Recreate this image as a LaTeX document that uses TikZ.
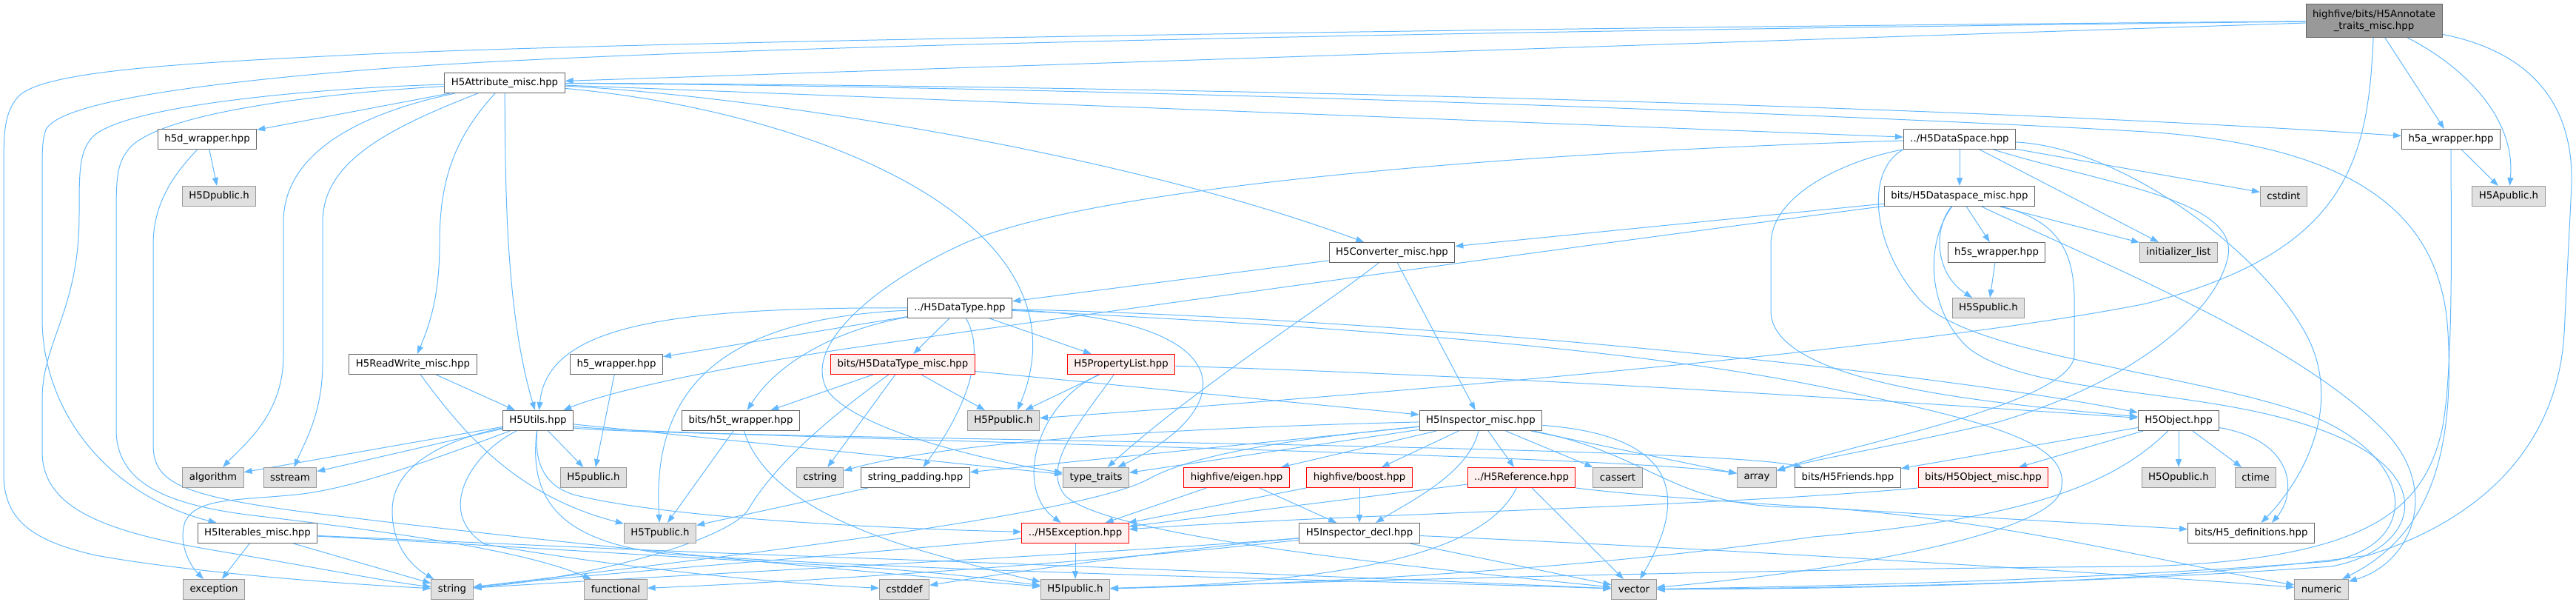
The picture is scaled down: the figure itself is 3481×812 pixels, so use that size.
\documentclass[tikz,border=0pt]{standalone}
\usepackage{fontspec}
\setmainfont{DejaVu Sans}
\usetikzlibrary{arrows.meta,backgrounds}
\definecolor{doxedge}{HTML}{63B8FF}
\definecolor{doxline}{HTML}{666666}
\definecolor{doxsys}{HTML}{E0E0E0}
\definecolor{doxsysline}{HTML}{999999}
\definecolor{doxcut}{HTML}{FFF0F0}
\definecolor{doxcutline}{HTML}{FF0000}
\definecolor{doxroot}{HTML}{999999}

\begin{document}
\begin{tikzpicture}[x=1pt,y=-1pt,
  every node/.style={font=\fontsize{13.3}{16}\selectfont,inner xsep=9pt,inner ysep=0pt,minimum height=27pt,line width=1pt},
  hfile/.style={draw=doxline,fill=white},
  sysfile/.style={draw=doxsysline,fill=doxsys},
  cutfile/.style={draw=doxcutline,fill=doxcut},
  rootfile/.style={draw=doxline,fill=doxroot,align=center,minimum height=45pt},
  dep/.style={doxedge,line width=1pt,-{Triangle[length=11pt,width=8pt]}}]
\useasboundingbox (0,0) rectangle (3481,812);

\node[rootfile] (annot) at (3208,28) {highfive/bits/H5Annotate\\\_traits\_misc.hpp};
\node[hfile] (attr) at (682,112) {H5Attribute\_misc.hpp};
\node[hfile] (h5d) at (280,188) {h5d\_wrapper.hpp};
\node[hfile] (dspace) at (2648,188) {../H5DataSpace.hpp};
\node[hfile] (h5a) at (3312,188) {h5a\_wrapper.hpp};
\node[sysfile] (h5dpub) at (296,265) {H5Dpublic.h};
\node[hfile] (dsmisc) at (2648,265) {bits/H5Dataspace\_misc.hpp};
\node[sysfile] (cstdint) at (3086,265) {cstdint};
\node[sysfile] (h5apub) at (3390,265) {H5Apublic.h};
\node[hfile] (conv) at (1881,341) {H5Converter\_misc.hpp};
\node[hfile] (h5s) at (2698,341) {h5s\_wrapper.hpp};
\node[sysfile] (initlist) at (2944,341) {initializer\_list};
\node[hfile] (dtype) at (1297,416) {../H5DataType.hpp};
\node[sysfile] (h5spub) at (2687,416) {H5Spublic.h};
\node[hfile] (rw) at (558,492) {H5ReadWrite\_misc.hpp};
\node[hfile] (h5w) at (833,492) {h5\_wrapper.hpp};
\node[cutfile] (dtmisc) at (1220,492) {bits/H5DataType\_misc.hpp};
\node[cutfile] (plist) at (1515,492) {H5PropertyList.hpp};
\node[hfile] (utils) at (727,568) {H5Utils.hpp};
\node[hfile] (h5t) at (1001,568) {bits/h5t\_wrapper.hpp};
\node[sysfile] (h5ppub) at (1356,568) {H5Ppublic.h};
\node[hfile] (insp) at (2001,568) {H5Inspector\_misc.hpp};
\node[hfile] (obj) at (2944,568) {H5Object.hpp};
\node[sysfile] (algo) at (288,645) {algorithm};
\node[sysfile] (sstream) at (392,645) {sstream};
\node[sysfile] (h5pub) at (802,645) {H5public.h};
\node[sysfile] (cstring) at (1108,645) {cstring};
\node[hfile] (strpad) at (1237,645) {string\_padding.hpp};
\node[sysfile] (ttraits) at (1481,645) {type\_traits};
\node[cutfile] (eigen) at (1671,645) {highfive/eigen.hpp};
\node[cutfile] (boost) at (1837,645) {highfive/boost.hpp};
\node[cutfile] (ref) at (2056,645) {../H5Reference.hpp};
\node[sysfile] (cassert) at (2186,645) {cassert};
\node[sysfile] (array) at (2374,645) {array};
\node[hfile] (friends) at (2497,645) {bits/H5Friends.hpp};
\node[cutfile] (objmisc) at (2680,645) {bits/H5Object\_misc.hpp};
\node[sysfile] (h5opub) at (2944,645) {H5Opublic.h};
\node[sysfile] (ctime) at (3048,645) {ctime};
\node[hfile] (iter) at (348,720) {H5Iterables\_misc.hpp};
\node[sysfile] (h5tpub) at (892,720) {H5Tpublic.h};
\node[cutfile] (exc) at (1453,720) {../H5Exception.hpp};
\node[hfile] (idecl) at (1837,720) {H5Inspector\_decl.hpp};
\node[hfile] (defs) at (3042,720) {bits/H5\_definitions.hpp};
\node[sysfile] (exception) at (289,796) {exception};
\node[sysfile] (string) at (611,796) {string};
\node[sysfile] (functional) at (832,796) {functional};
\node[sysfile] (cstddef) at (1222,796) {cstddef};
\node[sysfile] (h5ipub) at (1453,796) {H5Ipublic.h};
\node[sysfile] (vector) at (2208,796) {vector};
\node[sysfile] (numeric) at (3137,796) {numeric};

\begin{scope}[on background layer]
% root file
\draw[dep] (annot) -- (attr);
\draw[dep] (annot) .. controls (2000,38) and (900,55) .. (500,73) .. controls (250,85) and (60,95) .. (25,130) .. controls (8,150) and (5,170) .. (5,220) -- (5,640) .. controls (5,700) and (40,730) .. (130,750) .. controls (250,772) and (450,788) .. (string);
\draw[dep] (annot) .. controls (2000,42) and (900,62) .. (500,94) .. controls (250,114) and (80,140) .. (62,175) .. controls (57,190) and (57,200) .. (57,240) -- (57,430) .. controls (57,560) and (150,670) .. (iter);
\draw[dep] (annot) -- (h5a);
\draw[dep] (annot) .. controls (3330,90) and (3400,160) .. (h5apub);
\draw[dep] (annot) .. controls (3200,220) and (3170,340) .. (2900,410) .. controls (2600,470) and (1900,530) .. (h5ppub);
\draw[dep] (annot) .. controls (3420,70) and (3478,140) .. (3475,250) -- (3465,450) .. controls (3455,620) and (3330,710) .. (3200,750) .. controls (2900,790) and (2500,795) .. (vector);

% H5Attribute_misc.hpp
\draw[dep] (attr) -- (h5d);
\draw[dep] (attr) .. controls (500,150) and (383,200) .. (383,300) -- (383,480) .. controls (383,560) and (330,600) .. (algo);
\draw[dep] (attr) .. controls (520,175) and (436,220) .. (436,300) -- (436,490) .. controls (436,560) and (410,600) .. (sstream);
\draw[dep] (attr) .. controls (450,118) and (170,140) .. (125,185) .. controls (107,205) and (107,230) .. (107,290) .. controls (107,420) and (57,460) .. (57,540) -- (57,610) .. controls (57,690) and (150,720) .. (300,745) .. controls (420,765) and (520,785) .. (string);
\draw[dep] (attr) .. controls (450,125) and (220,150) .. (175,200) .. controls (157,222) and (157,240) .. (157,300) -- (157,580) .. controls (157,650) and (220,680) .. (333,695) .. controls (500,715) and (700,740) .. (functional);
\draw[dep] (attr) .. controls (610,190) and (594,250) .. (594,330) .. controls (594,400) and (580,440) .. (rw);
\draw[dep] (attr) .. controls (683,250) and (683,420) .. (utils);
\draw[dep] (attr) -- (dspace);
\draw[dep] (attr) .. controls (1500,115) and (2600,140) .. (h5a);
\draw[dep] (attr) .. controls (1600,118) and (2600,160) .. (2900,178) .. controls (3200,198) and (3300,300) .. (3308,450) .. controls (3316,600) and (3290,720) .. (numeric);
\draw[dep] (attr) .. controls (1000,128) and (1500,200) .. (conv);
\draw[dep] (attr) .. controls (1100,150) and (1480,300) .. ([xshift=19pt]h5ppub.north);

% wrappers
\draw[dep] (h5d) -- (h5dpub);
\draw[dep] (h5d) .. controls (240,230) and (207,270) .. (207,330) -- (207,600) .. controls (207,650) and (240,668) .. (400,690) .. controls (800,740) and (1200,775) .. (h5ipub);
\draw[dep] (h5a) -- (h5apub);
\draw[dep] (h5a) .. controls (3312,300) and (3316,500) .. (3300,580) .. controls (3275,690) and (3200,755) .. (2900,765) .. controls (2400,768) and (1800,785) .. (h5ipub);
\draw[dep] (h5s) -- (h5spub);
\draw[dep] (h5w) -- (h5pub);
\draw[dep] (h5t) -- (h5tpub);
\draw[dep] (h5t) .. controls (1030,660) and (1130,710) .. (1250,745) .. controls (1330,768) and (1380,780) .. (h5ipub);

% H5DataSpace.hpp
\draw[dep] (dspace) -- (dsmisc);
\draw[dep] (dspace) -- (cstdint);
\draw[dep] (dspace) -- (initlist);
\draw[dep] (dspace) .. controls (2880,200) and (3080,360) .. (3125,470) .. controls (3160,560) and (3110,650) .. (defs);
\draw[dep] (dspace) .. controls (2500,215) and (2393,260) .. (2393,330) -- (2393,420) .. controls (2393,520) and (2700,545) .. (obj);
\draw[dep] (dspace) .. controls (2850,250) and (3030,270) .. (3010,350) .. controls (2990,430) and (2870,520) .. (2700,570) .. controls (2550,605) and (2450,620) .. (array);
\draw[dep] (dspace.south west) .. controls (2520,230) and (2530,330) .. (2590,400) .. controls (2650,480) and (2950,500) .. (3120,560) .. controls (3270,620) and (3270,735) .. (3150,758) .. controls (2800,785) and (2450,792) .. (vector);
\draw[dep] (dspace) .. controls (2200,200) and (1500,240) .. (1300,330) .. controls (1180,385) and (1080,470) .. (1120,530) .. controls (1170,590) and (1380,630) .. (ttraits);

% bits/H5Dataspace_misc.hpp
\draw[dep] (dsmisc) -- (conv);
\draw[dep] (dsmisc) .. controls (2000,350) and (1500,420) .. (1150,470) .. controls (950,500) and (820,530) .. (utils);
\draw[dep] (dsmisc) .. controls (2612,310) and (2615,370) .. (h5spub);
\draw[dep] (dsmisc) -- (h5s);
\draw[dep] (dsmisc) -- (initlist);
\draw[dep] (dsmisc) .. controls (2850,360) and (3100,460) .. (3220,580) .. controls (3300,660) and (3260,760) .. (numeric);
\draw[dep] (dsmisc) .. controls (2790,300) and (2805,350) .. (2803,420) -- (2803,480) .. controls (2800,545) and (2500,600) .. (array);
\draw[dep] (dsmisc) .. controls (2600,330) and (2605,420) .. (2660,470) .. controls (2750,540) and (3000,520) .. (3160,590) .. controls (3300,650) and (3260,745) .. (3150,765) .. controls (2800,790) and (2450,794) .. (vector);

% H5Converter_misc.hpp
\draw[dep] (conv) -- (dtype);
\draw[dep] (conv) -- (insp);
\draw[dep] (conv) .. controls (1780,420) and (1620,520) .. (ttraits);

% ../H5DataType.hpp
\draw[dep] (dtype) .. controls (900,415) and (740,440) .. (utils);
\draw[dep] (dtype) -- (h5w);
\draw[dep] (dtype) .. controls (1130,445) and (1050,490) .. (h5t);
\draw[dep] (dtype) .. controls (980,430) and (880,520) .. (h5tpub);
\draw[dep] (dtype) -- (dtmisc);
\draw[dep] (dtype) -- (plist);
\draw[dep] (dtype) .. controls (1335,480) and (1300,560) .. (strpad);
\draw[dep] (dtype) .. controls (1680,430) and (1680,550) .. (ttraits);
\draw[dep] (dtype) .. controls (1900,430) and (2600,500) .. (obj);
\draw[dep] (dtype) .. controls (1800,440) and (2200,470) .. (2450,520) .. controls (2700,570) and (2800,600) .. (2785,662) .. controls (2770,720) and (2500,770) .. (vector);

% bits/H5DataType_misc.hpp and H5PropertyList.hpp
\draw[dep] (dtmisc) -- (h5ppub);
\draw[dep] (dtmisc) -- (insp);
\draw[dep] (dtmisc) -- (h5t);
\draw[dep] (dtmisc) -- (cstring);
\draw[dep] (dtmisc) .. controls (1140,550) and (1050,620) .. (1010,690) .. controls (980,730) and (800,780) .. (string);
\draw[dep] (plist) -- (h5ppub);
\draw[dep] (plist) .. controls (1400,545) and (1370,660) .. (exc);
\draw[dep] (plist) .. controls (1460,570) and (1405,630) .. (1440,670) .. controls (1500,725) and (1900,765) .. (vector);
\draw[dep] (plist) .. controls (2100,510) and (2600,545) .. (obj);

% H5ReadWrite_misc.hpp, string_padding.hpp
\draw[dep] (rw) -- (utils);
\draw[dep] (rw) .. controls (630,590) and (700,670) .. (h5tpub);
\draw[dep] (strpad) -- (h5tpub);

% H5Utils.hpp
\draw[dep] (utils) -- (algo);
\draw[dep] (utils) -- (sstream);
\draw[dep] (utils) .. controls (600,615) and (480,660) .. (400,668) .. controls (320,676) and (265,672) .. (250,705) .. controls (240,735) and (258,765) .. (exception);
\draw[dep] (utils) .. controls (620,590) and (530,620) .. (530,690) .. controls (530,745) and (565,770) .. (string);
\draw[dep] (utils) -- (h5pub);
\draw[dep] (utils) .. controls (640,610) and (585,690) .. (655,735) .. controls (800,760) and (1000,785) .. (cstddef);
\draw[dep] (utils) .. controls (722,625) and (735,655) .. (775,668) .. controls (900,700) and (1200,714) .. (exc);
\draw[dep] (utils) .. controls (715,670) and (750,730) .. (900,748) .. controls (1300,775) and (1900,785) .. (vector);
\draw[dep] ([yshift=-8pt]utils.east) .. controls (900,590) and (2150,612) .. ([yshift=6pt]array.west);
\draw[dep] (utils) -- (ttraits);
\draw[dep] ([yshift=-10pt]utils.east) .. controls (900,592) and (2300,600) .. (friends);

% H5Inspector_misc.hpp
\draw[dep] (insp) .. controls (1700,575) and (1300,590) .. (cstring);
\draw[dep] (insp) -- (strpad);
\draw[dep] (insp) -- (ttraits);
\draw[dep] (insp) .. controls (1700,597) and (1600,620) .. (1550,648) .. controls (1460,695) and (1000,750) .. (string);
\draw[dep] (insp) -- (eigen);
\draw[dep] (insp) -- (boost);
\draw[dep] (insp) .. controls (1985,640) and (1900,680) .. (idecl);
\draw[dep] (insp) -- (ref);
\draw[dep] (insp) -- (cassert);
\draw[dep] (insp) -- (array);
\draw[dep] (insp) .. controls (2290,590) and (2270,690) .. (vector);
\draw[dep] (insp) .. controls (2240,615) and (2260,690) .. (2450,685) .. controls (2700,700) and (2950,765) .. (numeric);

% optional and reference headers
\draw[dep] (eigen) -- (exc);
\draw[dep] (eigen) -- (idecl);
\draw[dep] (boost) -- (exc);
\draw[dep] (boost) -- (idecl);
\draw[dep] (ref) -- (exc);
\draw[dep] (ref) .. controls (2010,740) and (1850,785) .. (h5ipub);
\draw[dep] (ref) -- (vector);
\draw[dep] (ref.south east) .. controls (2300,680) and (2800,705) .. (defs);

% H5Inspector_decl.hpp, ../H5Exception.hpp
\draw[dep] (idecl) .. controls (1600,740) and (1350,775) .. (cstddef);
\draw[dep] (idecl) .. controls (1500,748) and (900,777) .. (string);
\draw[dep] (idecl) .. controls (1500,758) and (1100,785) .. (functional);
\draw[dep] (idecl) -- (vector);
\draw[dep] (idecl) .. controls (2300,740) and (2800,770) .. (numeric);
\draw[dep] (exc) -- (h5ipub);
\draw[dep] (exc) .. controls (1200,745) and (800,775) .. (string);

% H5Object.hpp
\draw[dep] (obj) -- (friends);
\draw[dep] (obj) -- (objmisc);
\draw[dep] (obj) .. controls (2860,650) and (2750,700) .. (2450,725) .. controls (2100,775) and (1700,790) .. (h5ipub);
\draw[dep] (obj) -- (h5opub);
\draw[dep] (obj) -- (ctime);
\draw[dep] (obj) .. controls (3100,595) and (3105,665) .. ([xshift=28pt]defs.north);
\draw[dep] (objmisc.south west) .. controls (2300,685) and (1800,695) .. (exc);

% H5Iterables_misc.hpp
\draw[dep] (iter) -- (exception);
\draw[dep] (iter) -- (string);
\draw[dep] (iter) .. controls (700,735) and (900,745) .. (1200,755) .. controls (1600,770) and (1950,785) .. (vector);
\draw[dep] (iter) .. controls (700,738) and (900,752) .. (1150,765) .. controls (1300,775) and (1360,785) .. (h5ipub);
\end{scope}
\end{tikzpicture}
\end{document}
